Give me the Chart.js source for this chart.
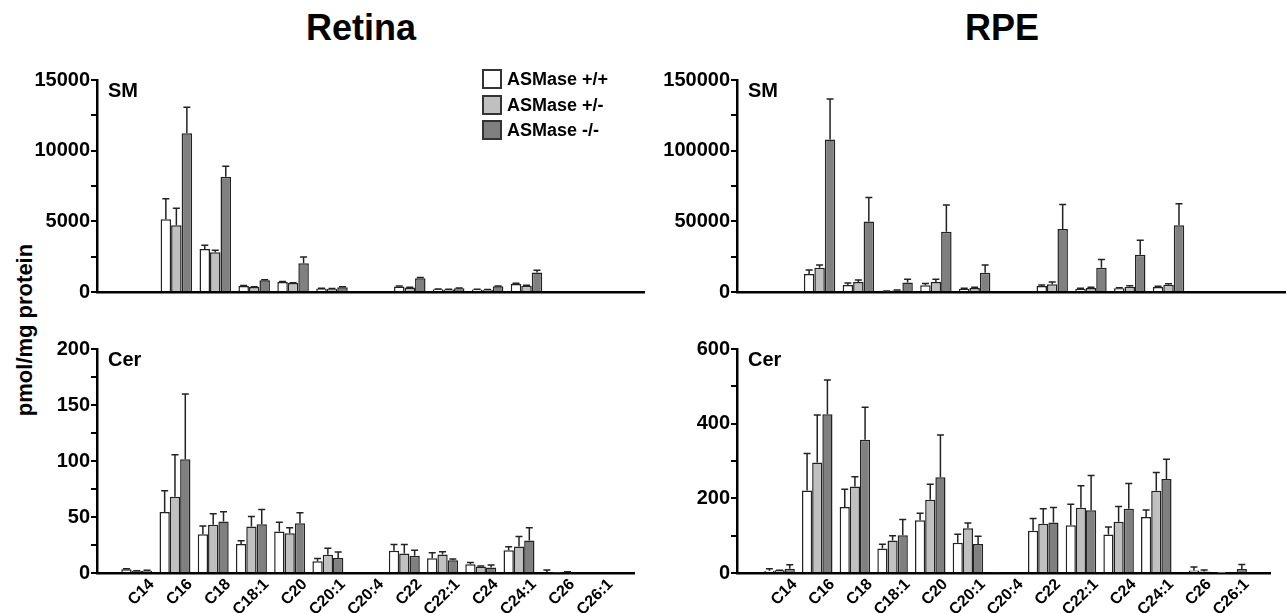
<!DOCTYPE html>
<html>
<head>
<meta charset="utf-8">
<script src="https://cdn.jsdelivr.net/npm/chart.js@4.4.1/dist/chart.umd.min.js"></script>
<style>
  body { margin: 0; background: #fff; font-family: "Liberation Sans", Arial, sans-serif; }
  #wrap { position: relative; width: 1286px; height: 613px; overflow: hidden; }
  canvas { position: absolute; }
  .title { position: absolute; font-weight: bold; font-size: 36px; line-height: 36px; transform: translateX(-50%); white-space: nowrap; }
  .ylab { position: absolute; left: 25px; top: 330px; font-weight: bold; font-size: 22px; white-space: nowrap;
          transform: translate(-50%, -50%) rotate(-90deg); }
  .legend { position: absolute; left: 482px; top: 69px; }
  .legend div { height: 25.5px; display: flex; align-items: flex-start; font-weight: bold; font-size: 18px; line-height: 20px; }
  .legend span.box { width: 20px; height: 20px; box-sizing: border-box; border: 2px solid #333; margin-right: 5px; }
</style>
</head>
<body>
<div id="wrap">
  <div class="title" style="left:361px;top:10px">Retina</div>
  <div class="title" style="left:1002px;top:10px">RPE</div>
  <div class="ylab">pmol/mg protein</div>
  <canvas id="retinaSM" width="650" height="250" style="left:0;top:55px"></canvas>
  <canvas id="retinaCer" width="650" height="288" style="left:0;top:325px"></canvas>
  <canvas id="rpeSM" width="646" height="250" style="left:640px;top:55px"></canvas>
  <canvas id="rpeCer" width="646" height="288" style="left:640px;top:325px"></canvas>
  <div class="legend" id="legend"></div>
</div>
<script>
const categories = ['C14', 'C16', 'C18', 'C18:1', 'C20', 'C20:1', 'C20:4', 'C22', 'C22:1', 'C24', 'C24:1', 'C26', 'C26:1'];
const seriesNames = ['ASMase +/+', 'ASMase +/-', 'ASMase -/-'];
const seriesColors = ['#ffffff', '#c0c0c0', '#808080'];

// Retina, SM (means and upper error)
const retinaSmWt     = [0, 5150, 3050, 430, 700, 250, 0, 390, 200, 180, 560, 0, 0];
const retinaSmWtErr  = [0, 1440, 250, 30, 40, 20, 0, 30, 10, 10, 60, 0, 0];
const retinaSmHet    = [0, 4720, 2820, 360, 630, 230, 0, 320, 180, 160, 450, 0, 0];
const retinaSmHetErr = [0, 1210, 130, 10, 20, 10, 0, 20, 10, 10, 20, 0, 0];
const retinaSmKo     = [0, 11230, 8150, 840, 2030, 340, 0, 970, 270, 410, 1380, 0, 0];
const retinaSmKoErr  = [0, 1850, 740, 30, 450, 30, 0, 60, 20, 20, 160, 0, 0];

// Retina, Cer
const retinaCerWt     = [3.3, 54.5, 34.5, 26, 37, 10.5, 0, 19.8, 13.2, 7.8, 20.4, 1.0, 0];
const retinaCerWtErr  = [0.6, 19, 7.5, 2.8, 8.4, 2.4, 0, 5.6, 4.8, 1.5, 3, 1.7, 0];
const retinaCerHet    = [1.8, 68, 43, 41.5, 35.5, 16.4, 0, 17.4, 16.5, 5.7, 23.7, 0.3, 0];
const retinaCerHetErr = [0.3, 37.5, 10, 9, 5, 5.6, 0, 8, 2.4, 0.6, 9, 0, 0];
const retinaCerKo     = [2.1, 101.5, 46, 43.5, 44.4, 13.4, 0, 15.3, 11.4, 4.8, 29, 0.8, 0];
const retinaCerKoErr  = [0.3, 58.4, 8.6, 13.2, 9.4, 5.4, 0, 5.1, 1.2, 2.4, 11.4, 0.4, 0];

// RPE, SM
const rpeSmWt     = [0, 12800, 5000, 450, 4700, 2250, 0, 4300, 2250, 2700, 3600, 0, 0];
const rpeSmWtErr  = [0, 2700, 1300, 200, 1350, 400, 0, 600, 400, 300, 500, 0, 0];
const rpeSmHet    = [0, 17100, 7000, 1100, 7000, 2900, 0, 5400, 2900, 3800, 5200, 0, 0];
const rpeSmHetErr = [0, 2000, 1550, 300, 2000, 500, 0, 1600, 500, 600, 600, 0, 0];
const rpeSmKo     = [0, 107900, 49800, 6750, 42600, 13700, 0, 44600, 17100, 26400, 47300, 0, 0];
const rpeSmKoErr  = [0, 28600, 17100, 2250, 18900, 5400, 0, 17300, 5900, 10300, 15100, 0, 0];

// RPE, Cer
const rpeCerWt     = [6.3, 221, 177, 65.5, 141, 81, 1.8, 113, 128, 103, 150, 3, 0.5];
const rpeCerWtErr  = [5.4, 99, 47, 11.5, 19, 23, 0, 33, 56, 20, 19, 0, 0];
const rpeCerHet    = [7.2, 296, 232, 87, 196, 120, 0, 132, 175, 137, 220, 7, 0];
const rpeCerHetErr = [0.5, 127, 26, 13, 42, 13.6, 0, 40, 59, 41, 49, 9, 0];
const rpeCerKo     = [11.7, 425, 357, 101, 256.5, 78, 0, 135, 168, 172, 252, 4, 11];
const rpeCerKoErr  = [10.7, 92, 87, 42.5, 113, 20.7, 0, 40.5, 93, 68, 53, 4, 12];

const fontFamily = '"Liberation Sans", Arial, sans-serif';

// legend
const legendEl = document.getElementById('legend');
seriesNames.forEach((name, k) => {
  const row = document.createElement('div');
  row.innerHTML = '<span class="box" style="background:' + seriesColors[k] + '"></span>' + name;
  legendEl.appendChild(row);
});

const errorBars = {
  id: 'errorBars',
  afterDatasetsDraw(chart) {
    const ctx = chart.ctx;
    const y = chart.scales.y;
    ctx.save();
    ctx.strokeStyle = '#222';
    ctx.lineWidth = 1.5;
    chart.data.datasets.forEach((ds, k) => {
      chart.getDatasetMeta(k).data.forEach((bar, i) => {
        const e = ds.errors[i];
        if (!e) return;
        const top = y.getPixelForValue(ds.data[i].y + e);
        ctx.beginPath();
        ctx.moveTo(bar.x, bar.y);
        ctx.lineTo(bar.x, top);
        ctx.moveTo(bar.x - 3.5, top);
        ctx.lineTo(bar.x + 3.5, top);
        ctx.stroke();
      });
    });
    ctx.restore();
  }
};

const panelLabel = {
  id: 'panelLabel',
  afterDraw(chart, args, opts) {
    const ctx = chart.ctx;
    ctx.save();
    ctx.font = 'bold 20px ' + fontFamily;
    ctx.fillStyle = '#000';
    ctx.fillText(opts.text, chart.chartArea.left + 11, chart.chartArea.top + 17);
    ctx.restore();
  }
};

function makePanel(id, means, errs, opts) {
  const ctx = document.getElementById(id).getContext('2d');
  return new Chart(ctx, {
    type: 'bar',
    data: {
      datasets: means.map((m, k) => ({
        label: seriesNames[k],
        data: m.map((v, i) => ({ x: i, y: v })),
        errors: errs[k],
        backgroundColor: seriesColors[k],
        borderColor: '#222',
        borderWidth: 1.5,
        borderSkipped: 'bottom',
        categoryPercentage: 0.81,
        barPercentage: 1.0
      }))
    },
    options: {
      responsive: false,
      animation: false,
      layout: { padding: { top: opts.padTop, right: opts.padRight, left: 0, bottom: 0 } },
      plugins: {
        legend: { display: false },
        tooltip: { enabled: false },
        panelLabel: { text: opts.label }
      },
      scales: {
        x: {
          type: 'linear',
          offset: false,
          min: opts.xMin,
          max: opts.xMax,
          grid: { display: false, drawTicks: false },
          border: { color: '#000', width: 2.5 },
          ticks: {
            display: opts.showX,
            stepSize: 1,
            autoSkip: false,
            minRotation: 45,
            maxRotation: 45,
            padding: 2,
            labelOffset: 15,
            color: '#000',
            font: { family: fontFamily, size: 16, weight: 'bold' },
            callback: v => (Number.isInteger(v) && categories[v] !== undefined) ? categories[v] : ''
          },
          afterFit: s => { s.height = opts.xHeight; }
        },
        y: {
          min: 0,
          max: opts.yMax,
          grid: { drawOnChartArea: false, color: '#000', lineWidth: 2, tickLength: 6 },
          border: { color: '#000', width: 2.5 },
          ticks: {
            stepSize: opts.minor,
            padding: 1,
            color: '#000',
            font: { family: fontFamily, size: 20, weight: 'bold' },
            callback: v => (v % opts.major === 0) ? String(v) : ''
          },
          afterFit: s => { s.width = 97; }
        }
      }
    },
    plugins: [errorBars, panelLabel]
  });
}

makePanel('retinaSM',
  [retinaSmWt, retinaSmHet, retinaSmKo], [retinaSmWtErr, retinaSmHetErr, retinaSmKoErr],
  { label: 'SM', yMax: 15000, minor: 2500, major: 5000, showX: false, xHeight: 3,
    padTop: 25, padRight: 6, xMin: -1.04, xMax: 13.02 });

makePanel('retinaCer',
  [retinaCerWt, retinaCerHet, retinaCerKo], [retinaCerWtErr, retinaCerHetErr, retinaCerKoErr],
  { label: 'Cer', yMax: 200, minor: 25, major: 50, showX: true, xHeight: 40,
    padTop: 24, padRight: 6, xMin: -1.04, xMax: 13.02 });

makePanel('rpeSM',
  [rpeSmWt, rpeSmHet, rpeSmKo], [rpeSmWtErr, rpeSmHetErr, rpeSmKoErr],
  { label: 'SM', yMax: 150000, minor: 25000, major: 50000, showX: false, xHeight: 3,
    padTop: 25, padRight: 0, xMin: -1.13, xMax: 13.03 });

makePanel('rpeCer',
  [rpeCerWt, rpeCerHet, rpeCerKo], [rpeCerWtErr, rpeCerHetErr, rpeCerKoErr],
  { label: 'Cer', yMax: 600, minor: 100, major: 200, showX: true, xHeight: 40,
    padTop: 24, padRight: 0, xMin: -1.13, xMax: 13.03 });
</script>
</body>
</html>
